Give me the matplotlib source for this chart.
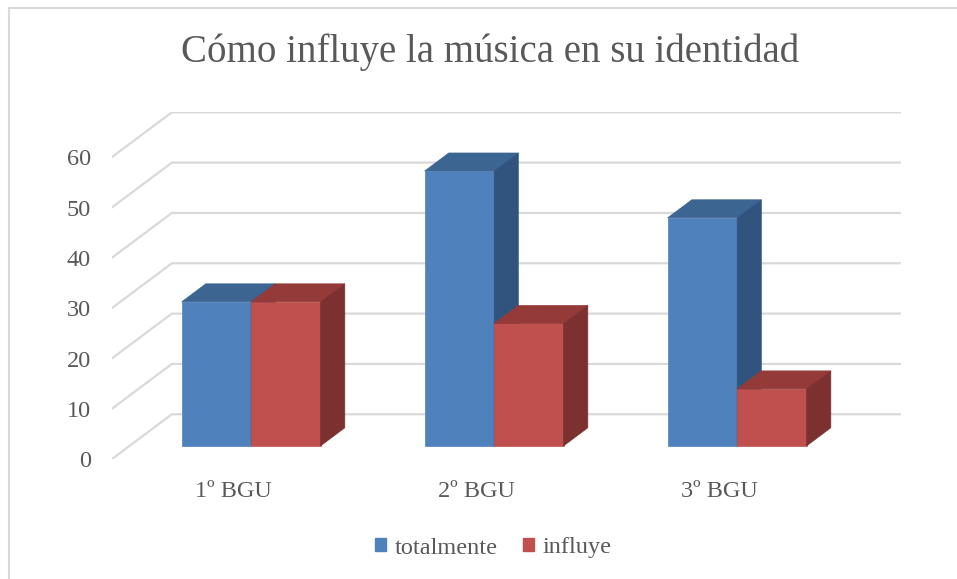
import matplotlib
matplotlib.use("Agg")
import matplotlib.pyplot as plt
from matplotlib.patches import Polygon, Rectangle, Patch

# data
categories = ["1º BGU", "2º BGU", "3º BGU"]
series_names = ["totalmente", "influye"]
totalmente = [28.6, 54.6, 45.3]
influye = [28.6, 24.3, 11.3]
yticks = [0, 10, 20, 30, 40, 50, 60]

front_cols = ["#4F81BD", "#C0504D"]
top_cols = ["#3D6592", "#943B39"]
side_cols = ["#31547E", "#7C3030"]
grid_col = "#D9D9D9"
text_col = "#595959"

W, H = 957, 579
fig = plt.figure(figsize=(W / 100, H / 100), dpi=100)
plt.rcParams["font.family"] = ["Liberation Serif", "DejaVu Serif"]

# plot area in pixels (front-left corner and back-right corner)
x0, x1 = 111.6, 900.9
y0, y1 = 459.3, 112.3
ax = fig.add_axes([x0 / W, (H - y0) / H, (x1 - x0) / W, (y0 - y1) / H])

DX = 0.248   # depth offset, category units
DY = 8.95    # depth offset, value units
ax.set_xlim(0, len(categories) + DX)
ax.set_ylim(0, yticks[-1] + DY)
for s in ax.spines.values():
    s.set_visible(False)

# back wall + side wall gridlines
for v in yticks:
    ax.plot([0, DX, len(categories) + DX], [v, v + DY, v + DY],
            color=grid_col, lw=1.6, zorder=1, solid_capstyle="butt")

# 3D-looking columns
bw = 0.286
gap = (1 - 2 * bw) / 2
d0, d1 = 0.3, 0.7
for s, vals in enumerate([totalmente, influye]):
    for i, v in enumerate(vals):
        xl = i + gap + s * bw + d0 * DX
        yb = d0 * DY
        xr = xl + bw
        yt = yb + v
        ox, oy = (d1 - d0) * DX, (d1 - d0) * DY
        ax.add_patch(Rectangle((xl, yb), bw, v, facecolor=front_cols[s],
                               edgecolor=front_cols[s], lw=0.5, zorder=3))
        ax.add_patch(Polygon([(xl, yt), (xr, yt), (xr + ox, yt + oy), (xl + ox, yt + oy)],
                             closed=True, facecolor=top_cols[s], edgecolor=top_cols[s],
                             lw=0.5, zorder=3))
        ax.add_patch(Polygon([(xr, yb), (xr + ox, yb + oy), (xr + ox, yt + oy), (xr, yt)],
                             closed=True, facecolor=side_cols[s], edgecolor=side_cols[s],
                             lw=0.5, zorder=3))

ax.set_yticks(yticks)
ax.set_yticklabels([str(t) for t in yticks])
ax.set_xticks([i + 0.5 for i in range(len(categories))])
ax.set_xticklabels(categories)
ax.tick_params(axis="y", length=0, pad=15, labelsize=17.5, labelcolor=text_col)
ax.tick_params(axis="x", length=0, pad=15.5, labelsize=17.5, labelcolor=text_col)

fig.text(490 / W, (H - 52) / H, "Cómo influye la música en su identidad",
         ha="center", va="center", fontsize=28, color=text_col)

handles = [Patch(facecolor=c, edgecolor=c) for c in front_cols]
fig.legend(handles, series_names, loc="center", bbox_to_anchor=(493.5 / W, (H - 548) / H),
           ncol=2, frameon=False, fontsize=17.5, labelcolor=text_col,
           handlelength=0.46, handleheight=0.46, handletextpad=0.35, columnspacing=1.05)

# chart border (only top/left visible)
fig.patches.append(Rectangle((8.5 / W, -0.1), 2, (H - 7.5) / H + 0.1, transform=fig.transFigure,
                             fill=False, edgecolor=grid_col, lw=1.5))

fig.savefig("out.png", dpi=100, facecolor="white")
